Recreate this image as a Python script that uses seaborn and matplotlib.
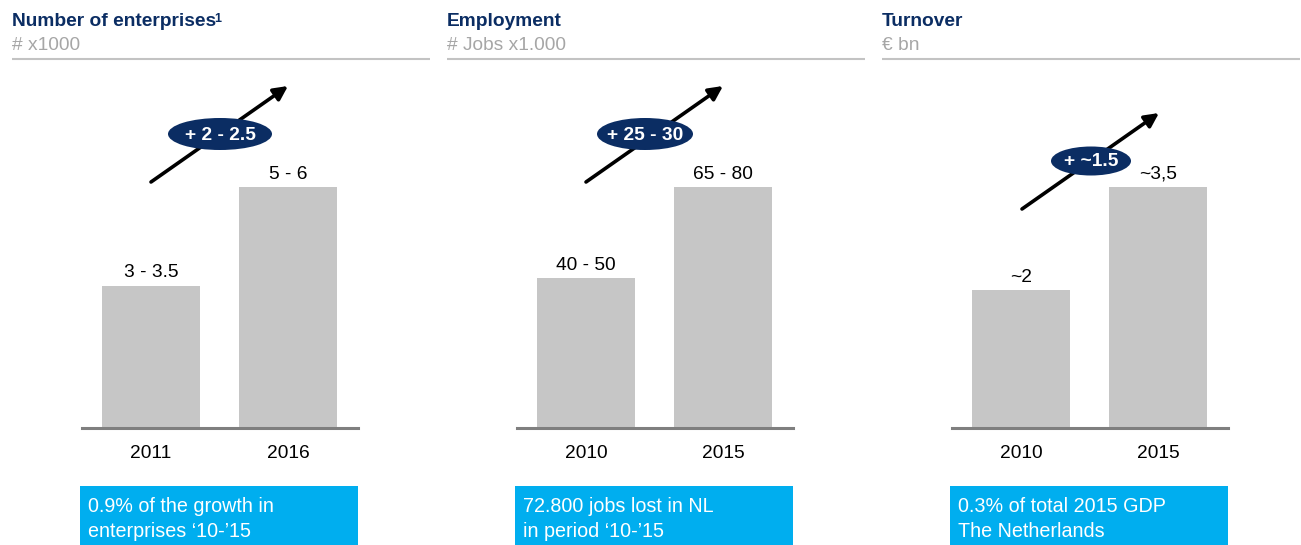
import matplotlib
matplotlib.use("Agg")
import matplotlib.pyplot as plt
import seaborn as sns
import pandas as pd
from matplotlib.patches import Ellipse, Rectangle, FancyArrowPatch

sns.set_theme(style="white")
plt.rcParams["font.family"] = ["Liberation Sans", "DejaVu Sans"]

# ---- data -------------------------------------------------------------
titles = ["Number of enterprises", "Employment", "Turnover"]
footnote_marks = ["1", "", ""]
units = ["# x1000", "# Jobs x1.000", "\u20ac bn"]

enterprise_years = ["2011", "2016"]
enterprise_values = [3.25, 5.5]          # midpoints of the stated ranges
enterprise_labels = ["3 - 3.5", "5 - 6"]

employment_years = ["2010", "2015"]
employment_values = [45, 72.5]
employment_labels = ["40 - 50", "65 - 80"]

turnover_years = ["2010", "2015"]
turnover_values = [2.0, 3.5]
turnover_labels = ["~2", "~3,5"]

growth_labels = ["+ 2 - 2.5", "+ 25 - 30", "+ ~1.5"]
notes = [
    "0.9% of the growth in\nenterprises \u201810-\u201915",
    "72.800 jobs lost in NL\nin period \u201810-\u201915",
    "0.3% of total 2015 GDP\nThe Netherlands",
]

panels = [
    (enterprise_years, enterprise_values, enterprise_labels),
    (employment_years, employment_values, employment_labels),
    (turnover_years, turnover_values, turnover_labels),
]

# ---- style ------------------------------------------------------------
NAVY = "#0b2d63"
GREY_TEXT = "#a6a6a6"
BAR = "#c6c6c6"
BASE = "#7f7f7f"
CYAN = "#00aeef"
FS = 13.8

W, H = 1301, 545
fig = plt.figure(figsize=(W / 100, H / 100), dpi=100)

# overlay in pixel coordinates for headers, arrows and note boxes
ov = fig.add_axes([0, 0, 1, 1])
ov.set_xlim(0, W)
ov.set_ylim(H, 0)
ov.axis("off")
ov.patch.set_alpha(0)

step = 435
# arrow geometry per panel: tail, head, ellipse centre, ellipse width, height
arrows = [
    ((151, 182), (288, 86), (220, 134), 104, 32),
    ((586, 182), (723, 86), (645, 134), 96, 32),
    ((1022, 209), (1159, 113), (1091, 161), 80, 29),
]

for i, (years, vals, labs) in enumerate(panels):
    x0 = 12 + i * step
    # header
    title = ov.text(x0, 21, titles[i], fontsize=FS, fontweight="bold", color=NAVY,
                    va="center", ha="left")
    if footnote_marks[i]:
        ov.annotate(footnote_marks[i], xy=(1.0, 0.97), xycoords=title,
                    xytext=(-1.5, 0), textcoords="offset points",
                    fontsize=9, fontweight="bold", color=NAVY, va="top", ha="left")
    ov.text(x0, 45, units[i], fontsize=FS, color=GREY_TEXT, va="center", ha="left")
    ov.plot([x0, x0 + 418], [59, 59], color="#c3c3c3", lw=1.5, solid_capstyle="butt")

    # bar chart
    ax_left, ax_right = 82 + i * step, 358 + i * step
    ax_top, ax_bot = 80, 428
    ax = fig.add_axes([ax_left / W, 1 - ax_bot / H,
                       (ax_right - ax_left) / W, (ax_bot - ax_top) / H])
    ax.patch.set_alpha(0)
    df = pd.DataFrame({"year": years, "value": vals})
    sns.barplot(data=df, x="year", y="value", color=BAR, width=0.715,
                saturation=1, ax=ax, edgecolor="none")
    ax.set_xlim(-0.504, 1.511)
    ax.set_ylim(0, max(vals) * 348 / 241)
    for s in ["top", "left", "right"]:
        ax.spines[s].set_visible(False)
    ax.spines["bottom"].set_color(BASE)
    ax.spines["bottom"].set_linewidth(2.2)
    ax.set_xlabel("")
    ax.set_ylabel("")
    ax.set_yticks([])
    ax.tick_params(axis="x", length=0, pad=12, labelsize=FS, labelcolor="black")
    ax.bar_label(ax.containers[0], labels=labs, padding=3, fontsize=FS, color="black")

    # growth arrow with badge
    tail, head, centre, ew, eh = arrows[i]
    ov.add_patch(FancyArrowPatch(tail, head, arrowstyle="-|>", mutation_scale=21,
                                 lw=2.6, color="black", zorder=3,
                                 shrinkA=0, shrinkB=0))
    ov.add_patch(Ellipse(centre, ew, eh, facecolor=NAVY, edgecolor="none", zorder=4))
    ov.text(centre[0], centre[1] + 1, growth_labels[i], fontsize=FS,
            fontweight="bold", color="white", ha="center", va="center", zorder=5)

    # note box
    bx = 80 + i * step
    ov.add_patch(Rectangle((bx, 486), 278, 60, facecolor=CYAN, edgecolor="none"))
    ov.text(bx + 8, 519, notes[i], fontsize=14.2, color="white", ha="left",
            va="center", linespacing=1.38)

fig.savefig("out.png", dpi=100)
